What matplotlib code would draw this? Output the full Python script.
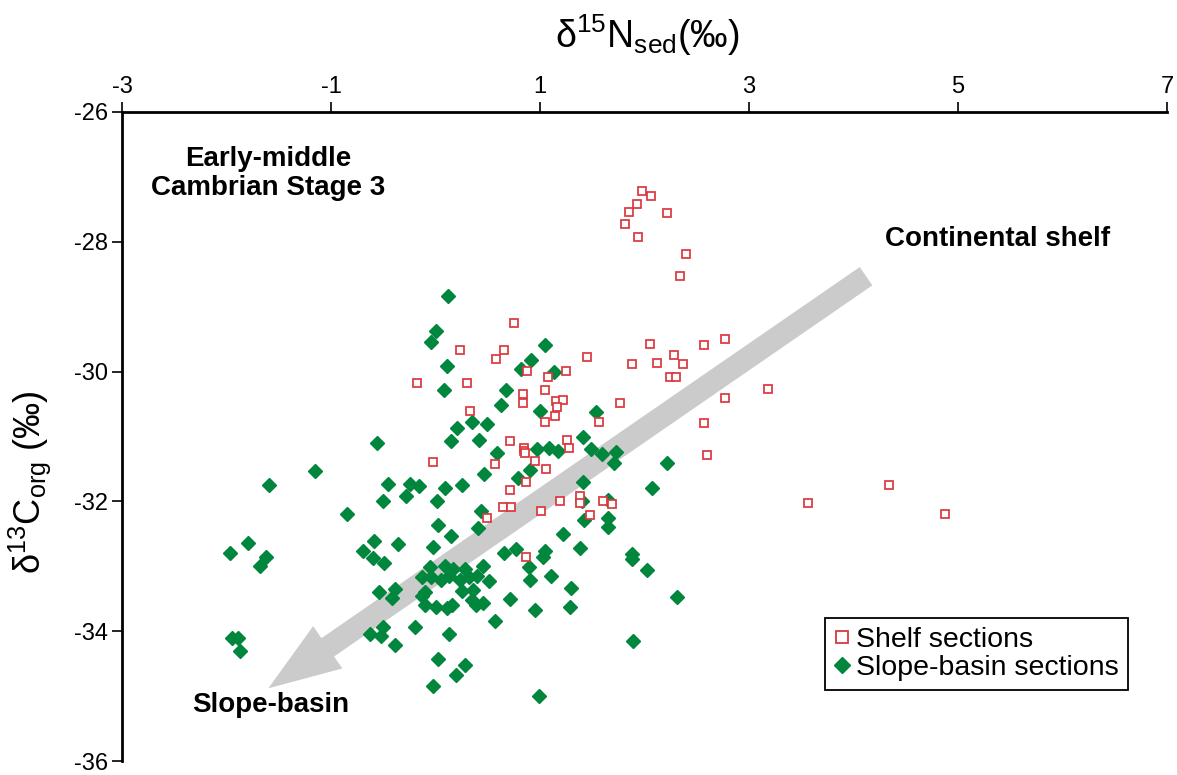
import matplotlib
matplotlib.use("Agg")
import matplotlib.pyplot as plt
from matplotlib.patches import FancyArrowPatch, ArrowStyle
from matplotlib.lines import Line2D

# ---------------- data ----------------
shelf_x = [1.98, 2.06, 1.93, 1.85, 1.81, 2.22, 1.94, 2.40, 2.34,
           2.05, 2.57, 2.77, 1.88, 2.12, 2.28, 2.37, 2.24, 2.30, 1.77,
           3.18, 2.77, 2.57, 2.60,
           0.75, 0.23, 0.66, 0.58, 1.45, 0.88, 1.08, 1.25, -0.18, 0.30,
           1.05, 0.84, 0.84, 1.15, 1.22, 1.16, 0.33, 1.14, 1.05, 1.56,
           0.71, 1.26, 1.28, 0.85, 0.85, 0.86, 0.95, -0.02, 0.57, 1.06,
           0.87, 0.71, 0.65, 0.72, 0.49, 1.01, 1.19, 1.38, 1.38, 1.60,
           1.69, 1.48, 0.87, 3.56, 4.34, 4.88]
shelf_y = [-27.21, -27.29, -27.42, -27.54, -27.72, -27.56, -27.92, -28.19, -28.52,
           -29.57, -29.59, -29.49, -29.89, -29.86, -29.75, -29.89, -30.08, -30.08, -30.48,
           -30.27, -30.40, -30.79, -31.28,
           -29.25, -29.66, -29.66, -29.80, -29.78, -29.99, -30.08, -29.99, -30.18, -30.18,
           -30.29, -30.35, -30.49, -30.46, -30.43, -30.54, -30.61, -30.69, -30.78, -30.78,
           -31.07, -31.06, -31.18, -31.17, -31.22, -31.26, -31.37, -31.39, -31.42, -31.50,
           -31.70, -31.83, -32.08, -32.09, -32.25, -32.15, -31.99, -31.92, -32.03, -31.99,
           -32.04, -32.21, -32.85, -32.02, -31.74, -32.19]

slope_x = [0.12, -0.00, -0.04, 0.11, 0.08, -0.56, -1.15, 1.05, 0.91, 0.82,
           1.13, 0.67, 0.63, 1.00, 1.54, 0.21, 0.35, 0.49, 0.15, 0.42,
           0.59, 0.97, 1.09, 1.17, 1.41, 1.49, 1.59, 1.73, 1.71, 0.46,
           0.90, 0.79, -1.59, -0.45, -0.24, -0.16, -0.28, -0.50, 0.09, 0.01,
           0.25, -0.85, 0.02, 0.44, 0.41, 0.15, -0.02, -1.79, -1.97, -1.62,
           -1.68, -0.59, -0.36, -0.69, -0.60, -0.49, -0.05, 0.09, 0.17, 0.28,
           0.45, -0.13, -0.04, 0.05, 0.13, 0.23, 0.32, 0.40, 0.51, -0.10,
           -0.13, 0.25, 0.36, -0.10, -0.00, 0.11, 0.16, 0.35, 0.39, 0.45,
           -0.42, -0.54, -0.39, 0.66, 0.77, 1.05, 1.03, 0.89, 0.90, 1.11,
           1.30, 1.29, 0.71, 0.95, 0.57, 1.22, 1.38, 1.41, 1.40, 1.65,
           1.42, 1.65, 1.65, 2.22, 2.07, 1.88, 1.88, 2.02, 2.31, 1.89,
           -0.63, -0.50, -0.52, -0.39, -0.20, 0.13, -1.95, -1.89, -1.87, 0.02,
           0.28, 0.20, -0.02, 0.99]
slope_y = [-28.84, -29.38, -29.55, -29.92, -30.28, -31.10, -31.53, -29.59, -29.82, -29.96,
           -30.01, -30.28, -30.51, -30.60, -30.63, -30.87, -30.77, -30.81, -31.07, -31.06,
           -31.26, -31.19, -31.17, -31.22, -31.00, -31.20, -31.27, -31.24, -31.41, -31.58,
           -31.52, -31.64, -31.74, -31.73, -31.73, -31.77, -31.92, -32.00, -31.80, -31.99,
           -31.74, -32.20, -32.37, -32.15, -32.41, -32.54, -32.71, -32.64, -32.80, -32.85,
           -33.00, -32.61, -32.66, -32.76, -32.87, -32.95, -33.01, -32.99, -33.04, -33.04,
           -32.99, -33.17, -33.17, -33.21, -33.15, -33.21, -33.17, -33.15, -33.23, -33.40,
           -33.45, -33.38, -33.37, -33.59, -33.62, -33.64, -33.59, -33.52, -33.60, -33.56,
           -33.49, -33.40, -33.35, -32.80, -32.74, -32.77, -32.85, -33.01, -33.21, -33.15,
           -33.33, -33.63, -33.51, -33.67, -33.85, -32.51, -32.72, -31.70, -31.99, -31.98,
           -32.29, -32.26, -32.39, -31.41, -31.80, -32.81, -32.88, -33.05, -33.48, -34.15,
           -34.05, -33.94, -34.07, -34.22, -33.93, -34.05, -34.11, -34.10, -34.30, -34.43,
           -34.52, -34.68, -34.84, -35.00]

x_ticks = [-3, -1, 1, 3, 5, 7]
y_ticks = [-26, -28, -30, -32, -34, -36]
series_labels = ["Shelf sections", "Slope-basin sections"]

# trend arrow (tail -> head), in data units
arrow_tail = (4.12, -28.53)
arrow_head = (-1.60, -34.88)

# ---------------- style ----------------
plt.rcParams['font.family'] = ['Liberation Sans', 'DejaVu Sans']
plt.rcParams['mathtext.fontset'] = 'custom'
plt.rcParams['mathtext.rm'] = 'Liberation Sans'
plt.rcParams['mathtext.it'] = 'Liberation Sans'
plt.rcParams['mathtext.default'] = 'regular'

RED = '#d9383e'
GREEN = '#00873d'

fig = plt.figure(figsize=(11.77, 7.75), dpi=100)
ax = fig.add_axes([122/1177, 1 - 761/775, (1167-122)/1177, (761-112)/775])

ax.set_xlim(-3, 7)
ax.set_ylim(-36, -26)

# arrow beneath markers
arrow = FancyArrowPatch(arrow_tail, arrow_head,
                        arrowstyle=ArrowStyle.Simple(head_length=52, head_width=37, tail_width=16),
                        mutation_scale=1, shrinkA=0, shrinkB=0,
                        color='#cbcbcb', lw=0, zorder=1)
ax.add_patch(arrow)

ax.plot(slope_x, slope_y, linestyle='none', marker='D', ms=6.7,
        color=GREEN, mec=GREEN, zorder=3)
ax.plot(shelf_x, shelf_y, linestyle='none', marker='s', ms=6.0,
        mfc='white', mec=RED, mew=1.25, zorder=4)

# spines / ticks
for s in ['right', 'bottom']:
    ax.spines[s].set_visible(False)
for s in ['top', 'left']:
    ax.spines[s].set_linewidth(2.0)
ax.xaxis.tick_top()
ax.set_xticks(x_ticks)
ax.set_yticks(y_ticks)
ax.set_xticklabels([str(t) for t in x_ticks])
ax.set_yticklabels([str(t) for t in y_ticks])
ax.tick_params(axis='both', direction='out', length=7, width=1.2, labelsize=17)
ax.tick_params(axis='x', pad=3)
ax.tick_params(axis='y', pad=3)

ax.xaxis.set_label_position('top')
ax.set_xlabel(r'δ$^{15}$N$_{sed}$(‰)', fontsize=27, va='center')
ax.xaxis.set_label_coords(0.503, 1.118)
ax.set_ylabel(r'δ$^{13}$C$_{org}$ (‰)', fontsize=26, va='center')
ax.yaxis.set_label_coords(-0.088, 0.43)

bold = dict(fontfamily=['Liberation Sans', 'DejaVu Sans'], fontweight='bold', fontsize=20)
ax.text(-1.60, -26.95, 'Early-middle\nCambrian Stage 3', ha='center', va='center',
        linespacing=1.15, **bold)
ax.text(4.30, -27.96, 'Continental shelf', ha='left', va='center', **bold)
ax.text(-2.33, -35.13, 'Slope-basin', ha='left', va='center', **bold)

handles = [Line2D([], [], linestyle='none', marker='s', ms=8, mfc='white', mec=RED, mew=1.3),
           Line2D([], [], linestyle='none', marker='D', ms=8.5, color=GREEN)]
leg = ax.legend(handles, series_labels, loc='upper left',
                bbox_to_anchor=(825/1177, 1 - 618/775), bbox_transform=fig.transFigure,
                prop={'family': ['Liberation Sans', 'DejaVu Sans'], 'size': 20.5},
                frameon=True, fancybox=False, edgecolor='black', framealpha=1,
                handlelength=0.6, handletextpad=0.2, borderpad=0.3, labelspacing=0.1,
                borderaxespad=0)
leg.get_frame().set_linewidth(1.3)

fig.savefig('out.png', dpi=100)
